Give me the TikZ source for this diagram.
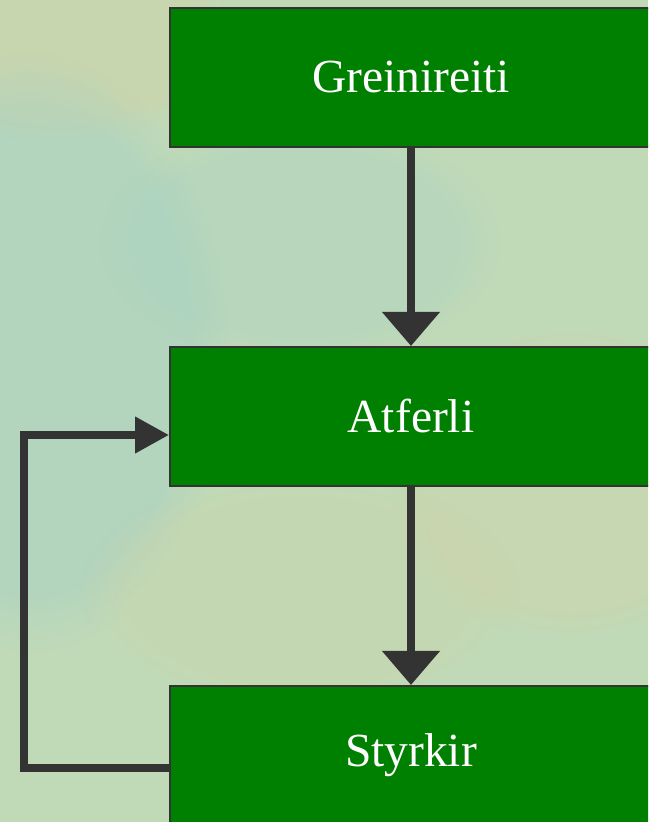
\documentclass[tikz,border=0pt]{standalone}
\usepackage{fontspec}
\setmainfont{Liberation Serif}
\usetikzlibrary{arrows.meta,fadings}
\definecolor{bgbase}{RGB}{192,218,184}
\definecolor{bgteal}{RGB}{165,208,196}
\definecolor{bgtan}{RGB}{210,210,165}
\definecolor{boxgreen}{RGB}{0,128,0}
\definecolor{darkline}{RGB}{51,51,51}
\tikzset{
  stepbox/.style={draw=darkline, line width=2pt, fill=boxgreen, text=white,
    minimum width=482pt, minimum height=139pt, inner sep=0pt,
    font=\fontsize{47.5}{56}\selectfont},
  flow/.style={draw=darkline, line width=8pt,
    -{Triangle[width=56pt,length=34pt]}},
  fb/.style={draw=darkline, line width=7.5pt,
    -{Triangle[width=35pt,length=34pt]}},
  blob/.style={path fading=circle with fuzzy edge 20 percent}
}
\begin{document}
\begin{tikzpicture}[x=1pt,y=1pt]
\useasboundingbox (0,0) rectangle (648,822);
\clip (0,0) rectangle (648,822);
\fill[bgbase] (0,0) rectangle (648,822);
\fill[bgtan, blob, fill opacity=0.45] (60,790) ellipse (180 and 110);
\fill[bgteal, blob, fill opacity=0.45] (30,470) ellipse (200 and 300);
\fill[bgteal, blob, fill opacity=0.3] (300,580) ellipse (200 and 120);
\fill[bgtan, blob, fill opacity=0.35] (570,340) ellipse (180 and 160);
\fill[bgtan, blob, fill opacity=0.25] (300,230) ellipse (220 and 120);
\node[stepbox] (grein) at (411,744.5) {Greinireiti};
\node[stepbox] (atf) at (411,405.5) {Atferli};
\node[stepbox] (sty) at (411,66.5) {Styrkir};
\draw[flow] (grein.south) -- (atf.north);
\draw[flow] (atf.south) -- (sty.north);
\coordinate (corner) at (24,54);
\draw[fb] ([yshift=-12.5pt]sty.west) -| (corner) |- ([yshift=-18.5pt]atf.west);
\end{tikzpicture}
\end{document}
